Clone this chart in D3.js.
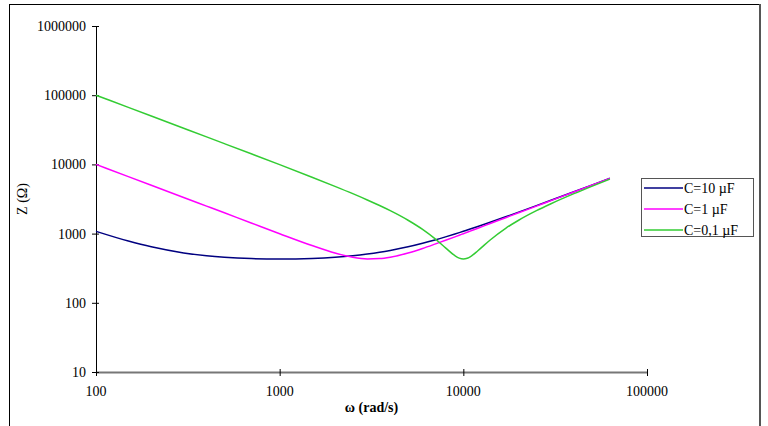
<!DOCTYPE html>
<html>
<head>
<meta charset="utf-8">
<script src="https://cdn.jsdelivr.net/npm/d3@7"></script>
<style>
  body { margin: 0; background: #fff; }
  svg text { font-family: "Liberation Serif", "Times New Roman", serif; fill: #000; }
</style>
</head>
<body>
<div id="chart"></div>
<script>
// angular frequency samples (rad/s)
const omega = [100, 150, 200, 300, 400, 500, 700, 1000, 1500, 2000, 2500, 3000, 3500, 4000,
               5000, 6000, 7000, 8000, 9000, 9500, 10000, 10500, 11000, 12000, 14000, 17000,
               20000, 25000, 30000, 40000, 50000, 62800];

// impedance (ohm)
const zC10 = [1079, 781, 644, 526, 478, 455, 436, 430, 438, 455, 478, 506, 537, 571,
              644, 725, 809, 897, 987, 1033, 1079, 1126, 1173, 1267, 1458, 1748,
              2041, 2533, 3027, 4021, 5016, 6293];
const zC1 = [9999, 6666, 4999, 3331, 2497, 1997, 1425, 997, 672, 524, 455, 431, 435, 455,
             524, 610, 704, 800, 898, 948, 997, 1047, 1097, 1197, 1396, 1697,
             1997, 2497, 2998, 3998, 4999, 6279];
const zC01 = [99990, 66652, 49980, 33304, 24964, 19955, 14222, 9910, 6531, 4819, 3775, 3064, 2544, 2144,
              1560, 1150, 846, 622, 479, 442, 430, 441, 470, 565, 809, 1192,
              1560, 2144, 2701, 3775, 4819, 6136];

const seriesNames = ["C=10 \u00B5F", "C=1 \u00B5F", "C=0,1 \u00B5F"];
const seriesColors = ["#000080", "#ff00ff", "#33cc33"];
const xTicks = [100, 1000, 10000, 100000];
const yTicks = [10, 100, 1000, 10000, 100000, 1000000];

const width = 768, height = 426;
const plot = { left: 96, right: 647, top: 26, bottom: 372 };
const fs = "14px";

const svg = d3.select("#chart").append("svg")
    .attr("width", width)
    .attr("height", height);

// outer frame
svg.append("rect")
   .attr("x", 9.5).attr("y", 4.5)
   .attr("width", 750).attr("height", 440)
   .attr("fill", "none")
   .attr("stroke", "#000")
   .attr("stroke-width", 1);
svg.append("line")
   .attr("x1", 760).attr("x2", 760)
   .attr("y1", 4).attr("y2", height)
   .attr("stroke", "#555").attr("stroke-width", 2);

const x = d3.scaleLog().domain([100, 100000]).range([plot.left, plot.right]);
const y = d3.scaleLog().domain([10, 1000000]).range([plot.bottom, plot.top]);

// x axis
const xAxis = svg.append("g").attr("class", "x-axis");
xAxis.append("line")
     .attr("x1", plot.left).attr("x2", plot.right)
     .attr("y1", plot.bottom + 0.5).attr("y2", plot.bottom + 0.5)
     .attr("stroke", "#777").attr("stroke-width", 2);
xTicks.forEach(t => {
    xAxis.append("line")
         .attr("x1", x(t) + 0.5).attr("x2", x(t) + 0.5)
         .attr("y1", plot.bottom - 3).attr("y2", plot.bottom + 4)
         .attr("stroke", "#000");
    xAxis.append("text")
         .attr("x", x(t)).attr("y", plot.bottom + 24)
         .attr("text-anchor", "middle")
         .style("font-size", fs)
         .text(t);
});

// y axis
const yAxis = svg.append("g").attr("class", "y-axis");
yAxis.append("line")
     .attr("x1", plot.left + 0.5).attr("x2", plot.left + 0.5)
     .attr("y1", plot.top).attr("y2", plot.bottom)
     .attr("stroke", "#000");
yTicks.forEach(t => {
    yAxis.append("line")
         .attr("x1", plot.left - 4).attr("x2", plot.left + 3)
         .attr("y1", y(t) + 0.5).attr("y2", y(t) + 0.5)
         .attr("stroke", "#000");
    yAxis.append("text")
         .attr("x", plot.left - 10).attr("y", y(t))
         .attr("dy", "0.35em")
         .attr("text-anchor", "end")
         .style("font-size", fs)
         .text(t);
});

// axis titles
svg.append("text")
   .attr("x", (plot.left + plot.right) / 2).attr("y", 412)
   .attr("text-anchor", "middle")
   .style("font-size", fs).style("font-weight", "bold")
   .text("\u03C9 (rad/s)");
svg.append("text")
   .attr("transform", `translate(27,${(plot.top + plot.bottom) / 2}) rotate(-90)`)
   .attr("text-anchor", "middle")
   .style("font-size", fs)
   .text("Z (\u03A9)");

// curves
const line = d3.line()
    .x(d => x(d[0]))
    .y(d => y(d[1]))
    .curve(d3.curveMonotoneX);

[zC10, zC1, zC01].forEach((zs, i) => {
    svg.append("path")
       .datum(omega.map((w, j) => [w, zs[j]]))
       .attr("d", line)
       .attr("fill", "none")
       .attr("stroke", seriesColors[i])
       .attr("stroke-width", 1.5);
});

// legend
const legend = svg.append("g").attr("class", "legend");
legend.append("rect")
      .attr("x", 641.5).attr("y", 178.5)
      .attr("width", 112).attr("height", 58)
      .attr("fill", "#fff")
      .attr("stroke", "#555");
seriesNames.forEach((name, i) => {
    const ly = 188 + i * 21;
    legend.append("line")
          .attr("x1", 644).attr("x2", 683)
          .attr("y1", ly).attr("y2", ly)
          .attr("stroke", seriesColors[i]).attr("stroke-width", 1.5);
    legend.append("text")
          .attr("x", 684).attr("y", ly)
          .attr("dy", "0.35em")
          .style("font-size", fs)
          .text(name);
});
</script>
</body>
</html>
